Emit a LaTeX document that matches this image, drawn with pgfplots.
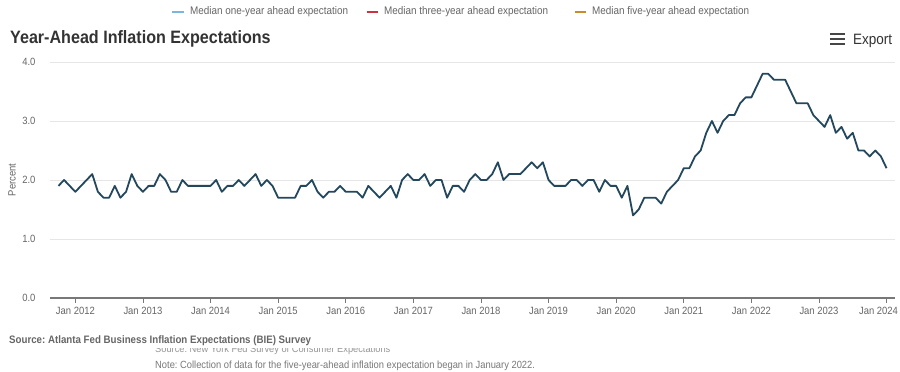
\documentclass[border=0pt]{standalone}
\usepackage{fontspec}
\setmainfont[FakeStretch=0.9]{Liberation Sans}
\usepackage{pgfplots}
\pgfplotsset{compat=1.18}
\frenchspacing
\definecolor{linec}{RGB}{35,72,94}
\definecolor{tickc}{RGB}{102,102,102}
\definecolor{gridc}{RGB}{230,230,230}
\definecolor{axc}{RGB}{120,120,120}
\definecolor{legblue}{RGB}{124,181,224}
\definecolor{legred}{RGB}{204,51,63}
\definecolor{legorange}{RGB}{200,140,42}
\definecolor{titlec}{RGB}{51,51,51}
\definecolor{iconc}{RGB}{70,70,70}
\definecolor{hidc}{RGB}{150,150,150}
\definecolor{notec}{RGB}{120,120,120}
\begin{document}
\begin{tikzpicture}
\useasboundingbox[fill=white] (0pt,0pt) rectangle (900pt,372pt);
\begin{axis}[
  at={(50pt,74pt)}, anchor=south west,
  scale only axis, width=845pt, height=236pt,
  xmin=-4.5, xmax=145.5, ymin=0, ymax=4,
  axis lines*=left,
  y axis line style={draw=none},
  x axis line style={draw=axc, line width=1.6pt},
  xtick={0,12,...,132},
  xticklabels={Jan 2012,Jan 2013,Jan 2014,Jan 2015,Jan 2016,Jan 2017,Jan 2018,Jan 2019,Jan 2020,Jan 2021,Jan 2022,Jan 2023},
  extra x ticks={144},
  extra x tick labels={Jan 2024},
  extra x tick style={xticklabel style={xshift=-8pt}},
  ytick={0,1,2,3,4},
  yticklabel style={/pgf/number format/.cd, fixed, fixed zerofill, precision=1, /tikz/.cd},
  /pgf/number format/assume math mode=true,
  tick align=outside,
  major tick length=5pt,
  xtick style={draw=axc, line width=0.6pt},
  ytick style={draw=none},
  ymajorgrids,
  grid style={draw=gridc, line width=0.8pt},
  ticklabel style={font=\fontsize{10.5}{12}\selectfont, text=tickc},
  yticklabel style={xshift=-6pt},
  xticklabel style={yshift=-1pt},
  clip=false,
]
\addplot[linec, line width=1.8pt, line join=round, mark=none] table {
x y
-3 1.9
-2 2.0
-1 1.9
0 1.8
1 1.9
2 2.0
3 2.1
4 1.8
5 1.7
6 1.7
7 1.9
8 1.7
9 1.8
10 2.1
11 1.9
12 1.8
13 1.9
14 1.9
15 2.1
16 2.0
17 1.8
18 1.8
19 2.0
20 1.9
21 1.9
22 1.9
23 1.9
24 1.9
25 2.0
26 1.8
27 1.9
28 1.9
29 2.0
30 1.9
31 2.0
32 2.1
33 1.9
34 2.0
35 1.9
36 1.7
37 1.7
38 1.7
39 1.7
40 1.9
41 1.9
42 2.0
43 1.8
44 1.7
45 1.8
46 1.8
47 1.9
48 1.8
49 1.8
50 1.8
51 1.7
52 1.9
53 1.8
54 1.7
55 1.8
56 1.9
57 1.7
58 2.0
59 2.1
60 2.0
61 2.0
62 2.1
63 1.9
64 2.0
65 2.0
66 1.7
67 1.9
68 1.9
69 1.8
70 2.0
71 2.1
72 2.0
73 2.0
74 2.1
75 2.3
76 2.0
77 2.1
78 2.1
79 2.1
80 2.2
81 2.3
82 2.2
83 2.3
84 2.0
85 1.9
86 1.9
87 1.9
88 2.0
89 2.0
90 1.9
91 2.0
92 2.0
93 1.8
94 2.0
95 1.9
96 1.9
97 1.7
98 1.9
99 1.4
100 1.5
101 1.7
102 1.7
103 1.7
104 1.6
105 1.8
106 1.9
107 2.0
108 2.2
109 2.2
110 2.4
111 2.5
112 2.8
113 3.0
114 2.8
115 3.0
116 3.1
117 3.1
118 3.3
119 3.4
120 3.4
121 3.6
122 3.8
123 3.8
124 3.7
125 3.7
126 3.7
127 3.5
128 3.3
129 3.3
130 3.3
131 3.1
132 3.0
133 2.9
134 3.1
135 2.8
136 2.9
137 2.7
138 2.8
139 2.5
140 2.5
141 2.4
142 2.5
143 2.4
144 2.2
};
\end{axis}
% y label
\node[rotate=90, font=\fontsize{10.5}{12}\selectfont, text=tickc] at (12pt,192pt) {Percent};
% legend
\draw[legblue, line width=1.5pt] (172pt,360pt) -- (184pt,360pt);
\node[anchor=west, inner sep=0pt, font=\fontsize{11}{12}\selectfont, text=tickc] at (190pt,360pt) {Median one-year ahead expectation};
\draw[legred, line width=1.5pt] (367pt,360pt) -- (378pt,360pt);
\node[anchor=west, inner sep=0pt, font=\fontsize{11}{12}\selectfont, text=tickc] at (384pt,360pt) {Median three-year ahead expectation};
\draw[legorange, line width=1.5pt] (575pt,360pt) -- (586pt,360pt);
\node[anchor=west, inner sep=0pt, font=\fontsize{11}{12}\selectfont, text=tickc] at (592pt,360pt) {Median five-year ahead expectation};
% title
\node[anchor=base west, inner sep=0pt, font=\fontsize{17.9}{20}\selectfont\bfseries, text=titlec] at (10pt,328pt) {Year-Ahead Inflation Expectations};
% export
\foreach \yy in {338,333,328} {\draw[iconc, line width=2pt] (830pt,\yy pt) -- (845pt,\yy pt);}
\node[anchor=west, inner sep=0pt, font=\fontsize{15}{16}\selectfont, text=titlec] at (853pt,331pt) {Export};
% source
\node[anchor=base west, inner sep=0pt, font=\fontsize{10.3}{12}\selectfont, text=hidc] at (155pt,19pt) {Source: New York Fed Survey of Consumer Expectations};
\fill[white] (150pt,24pt) rectangle (420pt,36pt);
\node[anchor=base west, inner sep=0pt, font=\fontsize{10.8}{12}\selectfont\bfseries, text=tickc] at (9pt,28pt) {Source: Atlanta Fed Business Inflation Expectations (BIE) Survey};
\node[anchor=base west, inner sep=0pt, font=\fontsize{10.4}{12}\selectfont, text=notec] at (155pt,3pt) {Note: Collection of data for the five-year-ahead inflation expectation began in January 2022.};
\end{tikzpicture}
\end{document}
